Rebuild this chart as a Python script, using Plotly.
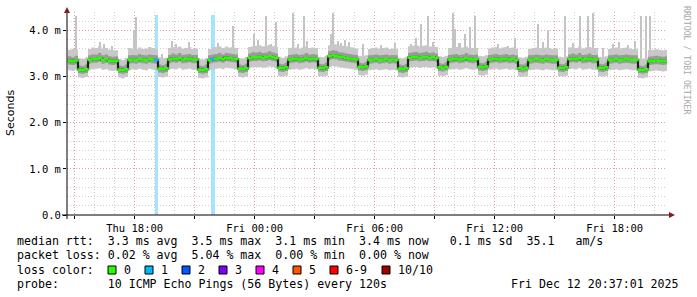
import plotly.graph_objects as go
import pandas as pd

# ---------------- data (ms) ----------------
start_time = "2025-12-11 14:40"
step = "10min"

median = [3.34, 3.33,
 3.35, 3.15, 3.14, 3.16, 3.36, 3.38,
 3.38, 3.40, 3.36, 3.38, 3.34, 3.33,
 3.34, 3.15, 3.14, 3.16, 3.36, 3.37,
 3.36, 3.38, 3.37, 3.36, 3.38, 3.37,
 3.36, 3.17, 3.16, 3.18, 3.37, 3.39,
 3.38, 3.40, 3.37, 3.38, 3.39, 3.37,
 3.37, 3.15, 3.14, 3.16, 3.36, 3.38,
 3.39, 3.40, 3.38, 3.41, 3.40, 3.39,
 3.38, 3.17, 3.16, 3.18, 3.40, 3.42,
 3.42, 3.43, 3.41, 3.42, 3.44, 3.42,
 3.40, 3.19, 3.18, 3.20, 3.37, 3.38,
 3.39, 3.37, 3.38, 3.40, 3.38, 3.39,
 3.38, 3.19, 3.18, 3.20, 3.44, 3.46,
 3.45, 3.43, 3.42, 3.40, 3.39, 3.38,
 3.37, 3.21, 3.20, 3.22, 3.36, 3.37,
 3.38, 3.36, 3.37, 3.38, 3.36, 3.37,
 3.36, 3.17, 3.16, 3.18, 3.41, 3.42,
 3.43, 3.41, 3.42, 3.43, 3.41, 3.42,
 3.40, 3.20, 3.19, 3.21, 3.37, 3.38,
 3.39, 3.37, 3.38, 3.40, 3.38, 3.37,
 3.38, 3.21, 3.20, 3.22, 3.37, 3.38,
 3.39, 3.37, 3.38, 3.39, 3.37, 3.38,
 3.36, 3.18, 3.17, 3.19, 3.36, 3.37,
 3.38, 3.37, 3.36, 3.38, 3.37, 3.36,
 3.36, 3.19, 3.18, 3.20, 3.38, 3.39,
 3.38, 3.40, 3.37, 3.38, 3.39, 3.37,
 3.37, 3.19, 3.18, 3.20, 3.36, 3.37,
 3.38, 3.36, 3.37, 3.38, 3.37, 3.36,
 3.36, 3.15, 3.14, 3.16, 3.33, 3.34,
 3.35, 3.34, 3.33, 3.34]

smoke_hi = [3.58, 3.60,
 3.59, 3.40, 3.38, 3.42, 3.60, 3.63,
 3.62, 3.66, 3.61, 3.62, 3.58, 3.57,
 3.57, 3.38, 3.36, 3.40, 3.62, 3.61,
 3.60, 3.63, 3.60, 3.61, 3.64, 3.62,
 3.60, 3.42, 3.40, 3.41, 3.62, 3.64,
 3.63, 3.65, 3.61, 3.62, 3.64, 3.60,
 3.61, 3.38, 3.37, 3.40, 3.60, 3.63,
 3.64, 3.66, 3.62, 3.65, 3.63, 3.64,
 3.62, 3.40, 3.39, 3.42, 3.64, 3.66,
 3.67, 3.68, 3.66, 3.67, 3.69, 3.66,
 3.64, 3.43, 3.41, 3.44, 3.62, 3.63,
 3.63, 3.61, 3.63, 3.65, 3.62, 3.63,
 3.62, 3.43, 3.42, 3.45, 3.68, 3.70,
 3.70, 3.68, 3.67, 3.66, 3.64, 3.63,
 3.61, 3.45, 3.44, 3.46, 3.60, 3.62,
 3.63, 3.60, 3.62, 3.63, 3.60, 3.61,
 3.60, 3.41, 3.40, 3.42, 3.66, 3.67,
 3.68, 3.66, 3.67, 3.68, 3.65, 3.66,
 3.64, 3.44, 3.43, 3.45, 3.62, 3.63,
 3.64, 3.62, 3.63, 3.65, 3.62, 3.62,
 3.62, 3.45, 3.44, 3.46, 3.61, 3.63,
 3.64, 3.61, 3.63, 3.64, 3.62, 3.63,
 3.60, 3.42, 3.41, 3.43, 3.60, 3.62,
 3.63, 3.62, 3.61, 3.63, 3.62, 3.60,
 3.61, 3.43, 3.42, 3.44, 3.63, 3.64,
 3.62, 3.65, 3.61, 3.63, 3.64, 3.62,
 3.62, 3.43, 3.42, 3.44, 3.60, 3.62,
 3.63, 3.61, 3.62, 3.63, 3.61, 3.60,
 3.60, 3.40, 3.38, 3.41, 3.57, 3.58,
 3.59, 3.58, 3.57, 3.58]

smoke_lo = [3.14, 3.12,
 3.15, 2.98, 2.97, 2.99, 3.15, 3.16,
 3.17, 3.18, 3.15, 3.16, 3.13, 3.12,
 3.13, 2.98, 2.96, 2.99, 3.14, 3.16,
 3.15, 3.17, 3.15, 3.14, 3.17, 3.15,
 3.14, 2.99, 2.98, 3.00, 3.16, 3.17,
 3.16, 3.18, 3.15, 3.16, 3.17, 3.15,
 3.15, 2.97, 2.96, 2.98, 3.14, 3.16,
 3.17, 3.18, 3.16, 3.19, 3.18, 3.17,
 3.16, 2.99, 2.98, 3.00, 3.18, 3.20,
 3.20, 3.21, 3.19, 3.20, 3.22, 3.20,
 3.18, 3.01, 3.00, 3.02, 3.15, 3.16,
 3.17, 3.15, 3.16, 3.18, 3.16, 3.17,
 3.16, 3.01, 3.00, 3.02, 3.21, 3.23,
 3.22, 3.20, 3.19, 3.18, 3.17, 3.16,
 3.15, 3.03, 3.02, 3.04, 3.14, 3.15,
 3.16, 3.14, 3.15, 3.16, 3.14, 3.15,
 3.14, 2.99, 2.98, 3.00, 3.19, 3.20,
 3.21, 3.19, 3.20, 3.21, 3.19, 3.20,
 3.18, 3.02, 3.01, 3.03, 3.15, 3.16,
 3.17, 3.15, 3.16, 3.18, 3.16, 3.15,
 3.16, 3.03, 3.02, 3.04, 3.15, 3.16,
 3.17, 3.15, 3.16, 3.17, 3.15, 3.16,
 3.14, 3.00, 2.99, 3.01, 3.14, 3.15,
 3.16, 3.15, 3.14, 3.16, 3.15, 3.14,
 3.14, 3.01, 3.00, 3.02, 3.16, 3.17,
 3.16, 3.18, 3.15, 3.16, 3.17, 3.15,
 3.15, 3.01, 3.00, 3.02, 3.14, 3.15,
 3.16, 3.14, 3.15, 3.16, 3.15, 3.14,
 3.14, 2.97, 2.96, 2.98, 3.11, 3.12,
 3.13, 3.12, 3.11, 3.12]

mid_hi = [3.44, 3.42,
 3.45, 3.24, 3.23, 3.26, 3.46, 3.48,
 3.48, 3.51, 3.46, 3.48, 3.44, 3.43,
 3.44, 3.24, 3.23, 3.26, 3.46, 3.47,
 3.46, 3.49, 3.47, 3.46, 3.48, 3.47,
 3.46, 3.26, 3.25, 3.28, 3.47, 3.50,
 3.48, 3.51, 3.47, 3.48, 3.49, 3.47,
 3.47, 3.24, 3.23, 3.26, 3.46, 3.48,
 3.49, 3.51, 3.48, 3.51, 3.50, 3.49,
 3.48, 3.26, 3.25, 3.28, 3.50, 3.53,
 3.52, 3.54, 3.51, 3.52, 3.55, 3.52,
 3.50, 3.28, 3.27, 3.30, 3.47, 3.48,
 3.49, 3.47, 3.48, 3.51, 3.48, 3.49,
 3.48, 3.28, 3.27, 3.30, 3.55, 3.57,
 3.56, 3.53, 3.52, 3.50, 3.49, 3.48,
 3.47, 3.30, 3.29, 3.32, 3.46, 3.47,
 3.48, 3.46, 3.47, 3.48, 3.46, 3.47,
 3.46, 3.26, 3.25, 3.28, 3.51, 3.53,
 3.54, 3.51, 3.52, 3.54, 3.51, 3.52,
 3.50, 3.29, 3.28, 3.31, 3.47, 3.48,
 3.49, 3.47, 3.48, 3.51, 3.48, 3.47,
 3.48, 3.30, 3.29, 3.32, 3.47, 3.48,
 3.49, 3.47, 3.48, 3.49, 3.47, 3.48,
 3.46, 3.27, 3.26, 3.29, 3.46, 3.47,
 3.48, 3.47, 3.46, 3.48, 3.47, 3.46,
 3.46, 3.28, 3.27, 3.30, 3.48, 3.50,
 3.48, 3.51, 3.47, 3.48, 3.50, 3.47,
 3.47, 3.28, 3.27, 3.30, 3.46, 3.47,
 3.48, 3.46, 3.47, 3.48, 3.47, 3.46,
 3.46, 3.24, 3.23, 3.26, 3.43, 3.44,
 3.45, 3.44, 3.43, 3.44]

mid_lo = [3.26, 3.25,
 3.27, 3.07, 3.06, 3.08, 3.28, 3.30,
 3.30, 3.32, 3.28, 3.30, 3.26, 3.25,
 3.26, 3.07, 3.06, 3.08, 3.28, 3.29,
 3.28, 3.30, 3.29, 3.28, 3.30, 3.29,
 3.28, 3.09, 3.08, 3.10, 3.29, 3.31,
 3.30, 3.32, 3.29, 3.30, 3.31, 3.29,
 3.29, 3.07, 3.06, 3.08, 3.28, 3.30,
 3.31, 3.32, 3.30, 3.33, 3.32, 3.31,
 3.30, 3.09, 3.08, 3.10, 3.32, 3.34,
 3.34, 3.35, 3.33, 3.34, 3.36, 3.34,
 3.32, 3.11, 3.10, 3.12, 3.29, 3.30,
 3.31, 3.29, 3.30, 3.32, 3.30, 3.31,
 3.30, 3.11, 3.10, 3.12, 3.36, 3.38,
 3.37, 3.35, 3.34, 3.32, 3.31, 3.30,
 3.29, 3.13, 3.12, 3.14, 3.28, 3.29,
 3.30, 3.28, 3.29, 3.30, 3.28, 3.29,
 3.28, 3.09, 3.08, 3.10, 3.33, 3.34,
 3.35, 3.33, 3.34, 3.35, 3.33, 3.34,
 3.32, 3.12, 3.11, 3.13, 3.29, 3.30,
 3.31, 3.29, 3.30, 3.32, 3.30, 3.29,
 3.30, 3.13, 3.12, 3.14, 3.29, 3.30,
 3.31, 3.29, 3.30, 3.31, 3.29, 3.30,
 3.28, 3.10, 3.09, 3.11, 3.28, 3.29,
 3.30, 3.29, 3.28, 3.30, 3.29, 3.28,
 3.28, 3.11, 3.10, 3.12, 3.30, 3.31,
 3.30, 3.32, 3.29, 3.30, 3.31, 3.29,
 3.29, 3.11, 3.10, 3.12, 3.28, 3.29,
 3.30, 3.28, 3.29, 3.30, 3.29, 3.28,
 3.28, 3.07, 3.06, 3.08, 3.25, 3.26,
 3.27, 3.26, 3.25, 3.26]

# single-ping outliers (spikes)
spike_times = ["2025-12-11 15:05", "2025-12-11 15:55", "2025-12-11 16:16", "2025-12-11 16:28",
               "2025-12-11 16:52", "2025-12-11 17:58", "2025-12-11 18:04", "2025-12-11 19:22",
               "2025-12-11 19:52", "2025-12-11 20:05", "2025-12-11 20:43", "2025-12-11 22:10",
               "2025-12-11 22:55", "2025-12-11 23:58", "2025-12-12 00:10", "2025-12-12 00:34",
               "2025-12-12 00:50", "2025-12-12 01:04", "2025-12-12 01:55", "2025-12-12 02:10",
               "2025-12-12 02:28", "2025-12-12 02:37", "2025-12-12 03:49", "2025-12-12 03:55",
               "2025-12-12 04:10", "2025-12-12 04:20", "2025-12-12 04:31", "2025-12-12 04:43",
               "2025-12-12 05:25", "2025-12-12 06:20", "2025-12-12 07:01", "2025-12-12 07:50",
               "2025-12-12 08:04", "2025-12-12 08:19", "2025-12-12 08:40", "2025-12-12 08:55",
               "2025-12-12 09:55", "2025-12-12 10:01", "2025-12-12 10:15", "2025-12-12 10:31",
               "2025-12-12 10:46", "2025-12-12 11:01", "2025-12-12 12:10", "2025-12-12 12:40",
               "2025-12-12 13:01", "2025-12-12 14:10", "2025-12-12 14:25", "2025-12-12 14:40",
               "2025-12-12 15:31", "2025-12-12 15:55", "2025-12-12 16:16", "2025-12-12 16:40",
               "2025-12-12 16:55", "2025-12-12 17:25", "2025-12-12 17:55", "2025-12-12 18:13",
               "2025-12-12 18:40", "2025-12-12 19:01", "2025-12-12 19:19", "2025-12-12 19:34",
               "2025-12-12 19:46", "2025-12-12 20:16"]
spike_vals = [4.32, 3.62, 3.75, 3.70,
              3.67, 4.00, 4.29, 3.50,
              3.78, 3.70, 3.75, 3.72,
              4.10, 3.93, 3.80, 4.32,
              3.70, 4.18, 4.37, 3.70,
              4.32, 3.78, 3.93, 4.37,
              3.78, 3.72, 3.80, 3.75,
              3.70, 3.68, 3.72, 3.70,
              3.83, 4.15, 4.32, 3.75,
              4.37, 4.04, 3.72, 3.93,
              4.07, 4.32, 3.70, 3.66,
              3.83, 4.15, 3.75, 4.00,
              4.32, 3.72, 4.32, 4.32,
              4.37, 3.61, 3.70, 3.75,
              3.68, 3.78, 4.32, 4.32,
              4.32, 3.56]

# packet loss events (pings lost out of 10)
loss_times = ["2025-12-11 19:00", "2025-12-11 21:50"]
loss_count = [1, 1]
loss_bar_top = [4.33, 4.33]

loss_labels = ["0", "1", "2", "3", "4", "5", "6-9", "10/10"]
loss_colors = ["#26ff00", "#00b8ff", "#0059ff", "#7e00ff", "#ff00ff", "#ff5500", "#ff0000", "#a10000"]

y_tick_vals = [0, 1, 2, 3, 4]
y_tick_text = ["0.0", "1.0 m", "2.0 m", "3.0 m", "4.0 m"]

x_tick_vals = ["2025-12-11 15:00", "2025-12-11 18:00", "2025-12-11 21:00", "2025-12-12 00:00",
               "2025-12-12 03:00", "2025-12-12 06:00", "2025-12-12 09:00", "2025-12-12 12:00",
               "2025-12-12 15:00", "2025-12-12 18:00"]
x_tick_text = ["", "Thu 18:00", "", "Fri 00:00", "", "Fri 06:00", "", "Fri 12:00", "", "Fri 18:00"]

legend_line1 = "median rtt:  3.3 ms avg  3.5 ms max  3.1 ms min  3.4 ms now   0.1 ms sd  35.1   am/s"
legend_line2 = "packet loss: 0.02 % avg  5.04 % max  0.00 % min  0.00 % now"
legend_line3 = "loss color:"
legend_line4 = "probe:       10 ICMP Echo Pings (56 Bytes) every 120s"
timestamp = "Fri Dec 12 20:37:01 2025"
watermark = "RRDTOOL / TOBI OETIKER"
y_title = "Seconds"

x_range = ["2025-12-11 14:37", "2025-12-12 20:37"]
y_range = [0, 4.4]

# ---------------- figure ----------------
W, H = 697, 297
L, R, T, B = 67, 30, 12, 82
PW, PH = W - L - R, H - T - B


def px(x):
    return (x - L) / PW


def py(y):
    return (H - B - y) / PH


times = pd.date_range(start_time, periods=len(median), freq=step)
dt = pd.Timedelta(step)
edges = list(times) + [times[-1] + dt]


def ext(a):
    return list(a) + [a[-1]]


MONO = "DejaVu Sans Mono"
fig = go.Figure()

# spikes (behind the smoke body)
fig.add_trace(go.Bar(x=pd.to_datetime(spike_times), y=[v - 3.3 for v in spike_vals], base=3.3,
                     width=330000, marker=dict(color="#c4c4c4", line=dict(width=0)),
                     hoverinfo="skip", showlegend=False))

# outer smoke band
fig.add_trace(go.Scatter(x=edges, y=ext(smoke_lo), mode="lines", line=dict(width=0, shape="hv"),
                         hoverinfo="skip", showlegend=False))
fig.add_trace(go.Scatter(x=edges, y=ext(smoke_hi), mode="lines", line=dict(width=0, shape="hv"),
                         fill="tonexty", fillcolor="#c8c8c8", hoverinfo="skip", showlegend=False))
# middle smoke band
fig.add_trace(go.Scatter(x=edges, y=ext(mid_lo), mode="lines", line=dict(width=0, shape="hv"),
                         hoverinfo="skip", showlegend=False))
fig.add_trace(go.Scatter(x=edges, y=ext(mid_hi), mode="lines", line=dict(width=0, shape="hv"),
                         fill="tonexty", fillcolor="#9a9a9a", hoverinfo="skip", showlegend=False))

# loss bars
loss_col_map = {1: loss_colors[1], 2: loss_colors[2], 3: loss_colors[3], 4: loss_colors[4],
                5: loss_colors[5]}
fig.add_trace(go.Bar(x=pd.to_datetime(loss_times), y=loss_bar_top, width=600000, offset=0,
                     marker=dict(color="#a6e3fc", line=dict(width=0)),
                     hoverinfo="skip", showlegend=False))

# median line (dark core) + loss-coloured median marks
fig.add_trace(go.Scatter(x=edges, y=ext(median), mode="lines",
                         line=dict(color="#202020", width=2.2, shape="hv"),
                         hoverinfo="skip", showlegend=False))
loss_lookup = {pd.Timestamp(t): c for t, c in zip(loss_times, loss_count)}
mcolors = [loss_col_map.get(loss_lookup.get(t, 0), loss_colors[0]) for t in times]
fig.add_trace(go.Scatter(x=[t + dt / 2 for t in times], y=median, mode="markers",
                         marker=dict(symbol="line-ew", size=3.4, line=dict(width=2.6, color=mcolors)),
                         hoverinfo="skip", showlegend=False))

# ---------------- axes ----------------
fig.update_xaxes(type="date", range=x_range, tickmode="array", tickvals=x_tick_vals,
                 ticktext=x_tick_text, showgrid=True, gridcolor="#dea2a2", griddash="1px,2px",
                 gridwidth=1, ticks="outside", ticklen=3, tickcolor="#000000",
                 tickfont=dict(family=MONO, size=10.5, color="#000000"),
                 showline=False, zeroline=False, fixedrange=True,
                 minor=dict(dtick=3600000, tick0="2025-12-11 15:00", showgrid=True,
                            gridcolor="#cfcfcf", griddash="1px,2px", ticks=""))
fig.update_yaxes(range=y_range, tickmode="array", tickvals=y_tick_vals, ticktext=y_tick_text,
                 showgrid=True, gridcolor="#dea2a2", griddash="1px,2px", gridwidth=1,
                 ticks="outside", ticklen=3, tickcolor="#000000",
                 tickfont=dict(family=MONO, size=10.5, color="#000000"),
                 showline=False, zeroline=False, fixedrange=True,
                 minor=dict(dtick=0.2, showgrid=True, gridcolor="#cfcfcf", griddash="1px,2px", ticks=""))

# ---------------- axis lines & arrows ----------------
shapes = [
    dict(type="line", xref="paper", yref="paper", x0=px(62), x1=px(670), y0=0, y1=0,
         line=dict(color="#000000", width=1)),
    dict(type="line", xref="paper", yref="paper", x0=0, x1=0, y0=py(219), y1=py(11),
         line=dict(color="#000000", width=1)),
    dict(type="path", xref="paper", yref="paper",
         path=f"M {px(675)},{py(215)} L {px(669)},{py(212)} L {px(669)},{py(218)} Z",
         fillcolor="#8b1a1a", line=dict(width=0)),
    dict(type="path", xref="paper", yref="paper",
         path=f"M {px(67)},{py(7)} L {px(64)},{py(13)} L {px(70)},{py(13)} Z",
         fillcolor="#8b1a1a", line=dict(width=0)),
]

# loss colour legend squares
sq_x = [108, 145, 182, 219, 256, 293, 330, 382]
annotations = []
for x0, col, lab in zip(sq_x, loss_colors, loss_labels):
    shapes.append(dict(type="rect", xref="paper", yref="paper", x0=px(x0), x1=px(x0 + 8),
                       y0=py(274), y1=py(266), fillcolor=col, line=dict(color="#000000", width=1)))
    annotations.append(dict(x=px(x0 + 14), y=py(269.5), xref="paper", yref="paper", text=lab,
                            showarrow=False, xanchor="left", yanchor="middle",
                            font=dict(family=MONO, size=11.6, color="#000000")))

nb = lambda s: s.replace(" ", "\u00a0")
for txt, yy in [(legend_line1, 241), (legend_line2, 255), (legend_line3, 269.5), (legend_line4, 283.5)]:
    annotations.append(dict(x=px(15), y=py(yy), xref="paper", yref="paper", text=nb(txt),
                            showarrow=False, xanchor="left", yanchor="middle",
                            font=dict(family=MONO, size=11.6, color="#000000")))
annotations.append(dict(x=px(681), y=py(283.5), xref="paper", yref="paper", text=nb(timestamp),
                        showarrow=False, xanchor="right", yanchor="middle",
                        font=dict(family=MONO, size=11.6, color="#000000")))
annotations.append(dict(x=px(11), y=py(113), xref="paper", yref="paper", text=y_title,
                        showarrow=False, textangle=-90, xanchor="center", yanchor="middle",
                        font=dict(family="DejaVu Sans", size=11, color="#000000")))
annotations.append(dict(x=px(687), y=py(60), xref="paper", yref="paper", text=nb(watermark),
                        showarrow=False, textangle=90, xanchor="center", yanchor="middle",
                        font=dict(family=MONO, size=8.2, color="#a8a8a8")))

fig.update_layout(width=W, height=H, autosize=False,
                  margin=dict(l=L, r=R, t=T, b=B, pad=0),
                  paper_bgcolor="#ffffff", plot_bgcolor="#ffffff",
                  barmode="overlay", bargap=0, showlegend=False,
                  shapes=shapes, annotations=annotations)

fig.write_html("out.html", config={"displayModeBar": False})
